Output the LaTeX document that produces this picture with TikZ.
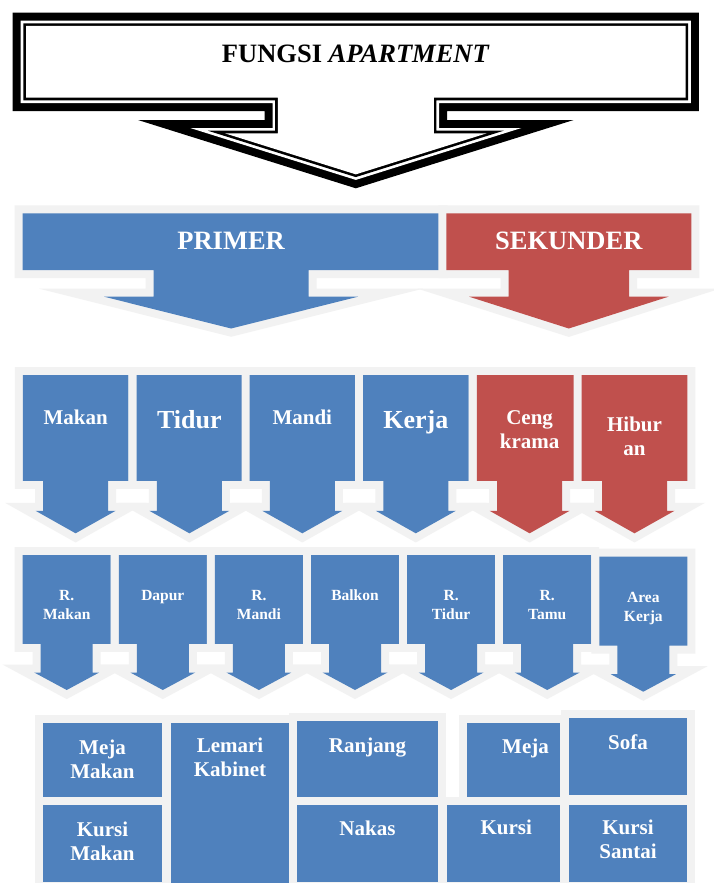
\documentclass[tikz,border=0pt]{standalone}
\usepackage{fontspec}
\setmainfont{Liberation Serif}
\definecolor{bblue}{HTML}{4F81BD}
\definecolor{rred}{HTML}{C0504D}
\definecolor{gborder}{HTML}{F2F2F2}
\tikzset{
  shapeblue/.style={fill=bblue, preaction={draw=gborder, line width=16pt, line join=miter, miter limit=30}},
  shapered/.style={fill=rred, preaction={draw=gborder, line width=16pt, line join=miter, miter limit=30}},
  lbl/.style={text=white, anchor=north, inner sep=0pt, align=center},
  fbig/.style={font=\fontsize{26.5}{30}\selectfont\bfseries},
  fmid/.style={font=\fontsize{21}{24.2}\selectfont\bfseries},
  fsmall/.style={font=\fontsize{15.5}{19.3}\selectfont\bfseries},
}
% down arrow callout: #1 style, #2 x1, #3 y1, #4 x2, #5 rect bottom, #6 stem half, #7 wing y, #8 head half, #9 tip y
\newcommand\dnarrow[9]{%
  \path[#1] (#2,#3) -- (#4,#3) -- (#4,#5) -- ({(#2+#4)/2+#6},#5) -- ({(#2+#4)/2+#6},#7)
    -- ({(#2+#4)/2+#8},#7) -- ({(#2+#4)/2},#9) -- ({(#2+#4)/2-#8},#7)
    -- ({(#2+#4)/2-#6},#7) -- ({(#2+#4)/2-#6},#5) -- (#2,#5) -- cycle;}
% title callout outline at inset #1 filled with #2
\newcommand\titleoutline[2]{%
  \fill[#2] ({12.7+#1},{12.7+#1}) -- ({698.9-#1},{12.7+#1}) -- ({698.9-#1},{111-#1})
    -- ({447.1-#1},{111-#1}) -- ({447.1-#1},{120+#1})
    -- ({355.8+(68.3-2.048*#1)/0.3136},{120+#1}) -- (355.8,{188.3-1.048*#1})
    -- ({355.8-(68.3-2.048*#1)/0.3136},{120+#1}) -- ({264.5+#1},{120+#1})
    -- ({264.5+#1},{111-#1}) -- ({12.7+#1},{111-#1}) -- cycle;}
\begin{document}
\begin{tikzpicture}[x=1pt,y=-1pt]
\useasboundingbox (0,0) rectangle (714,883);
\fill[white] (0,0) rectangle (714,883);
% title arrow
\titleoutline{0}{black}
\titleoutline{8}{white}
\titleoutline{10.7}{black}
\titleoutline{13.3}{white}
% row 2
\dnarrow{shapeblue}{22.7}{213.3}{439.5}{270}{77.6}{296.7}{127}{328.5}
\dnarrow{shapered}{446.3}{213.3}{691.3}{270}{60.3}{296.7}{99.7}{328.5}
% row 3
\dnarrow{shapeblue}{22.8}{375}{128.4}{480.8}{32.5}{510.8}{40}{533.3}
\dnarrow{shapeblue}{136.6}{375}{242.2}{480.8}{32.5}{510.8}{40}{533.3}
\dnarrow{shapeblue}{249.5}{375}{355.1}{480.8}{32.5}{510.8}{40}{533.3}
\dnarrow{shapeblue}{363}{375}{468.6}{480.8}{32.5}{510.8}{40}{533.3}
\dnarrow{shapered}{476.8}{375}{582.4}{480.8}{32.5}{510.8}{40}{533.3}
\dnarrow{shapered}{581.7}{375}{687.3}{480.8}{32.5}{510.8}{40}{533.3}
% row 4
\dnarrow{shapeblue}{22.7}{555}{110.7}{643.8}{26}{672.5}{32.5}{690}
\dnarrow{shapeblue}{118.8}{555}{206.8}{643.8}{26}{672.5}{32.5}{690}
\dnarrow{shapeblue}{214.9}{555}{302.9}{643.8}{26}{672.5}{32.5}{690}
\dnarrow{shapeblue}{311}{555}{399}{643.8}{26}{672.5}{32.5}{690}
\dnarrow{shapeblue}{407.1}{555}{495.1}{643.8}{26}{672.5}{32.5}{690}
\dnarrow{shapeblue}{503.2}{555}{591.2}{643.8}{26}{672.5}{32.5}{690}
\dnarrow{shapeblue}{599.3}{556.7}{687.3}{645.5}{26}{674.2}{32.5}{691.7}
% row 5
\path[shapeblue] (43.3,722.7) rectangle (161.7,796.7);
\path[shapeblue] (43.3,805) rectangle (161.7,881.7);
\path[shapeblue] (170.8,722.7) rectangle (289.2,895);
\path[shapeblue] (297,720.7) rectangle (437.7,796.7);
\path[shapeblue] (297,805) rectangle (437.7,881.7);
\path[shapeblue] (466.7,723.3) rectangle (560,796.7);
\path[shapeblue] (446.7,805) rectangle (560,881.7);
\path[shapeblue] (569,718.3) rectangle (687.3,795);
\path[shapeblue] (569,805) rectangle (687.3,881.7);
% labels
\node[lbl, fbig, text=black] (title) at (355.8,45) {FUNGSI \textit{APARTMENT}};
\node[lbl, fbig] (primer) at (231.1,232) {PRIMER};
\node[lbl, fbig] (sekunder) at (568.8,232) {SEKUNDER};
\node[lbl, fmid] (makan) at (75.6,410) {Makan};
\node[lbl, font=\fontsize{26}{30}\selectfont\bfseries] (tidur) at (189.4,410) {Tidur};
\node[lbl, fmid] (mandi) at (302.3,409.3) {Mandi};
\node[lbl, font=\fontsize{26}{30}\selectfont\bfseries] (kerja) at (415.8,410) {Kerja};
\node[lbl, fmid] (cengkrama) at (529.6,410) {Ceng\\krama};
\node[lbl, fmid] (hiburan) at (634.5,416.7) {Hibur\\an};
\node[lbl, fsmall] (rmakan) at (66.7,590) {R.\\Makan};
\node[lbl, fsmall] (dapur) at (162.8,590) {Dapur};
\node[lbl, fsmall] (rmandi) at (258.9,590) {R.\\Mandi};
\node[lbl, fsmall] (balkon) at (355,589.3) {Balkon};
\node[lbl, fsmall] (rtidur) at (451.1,590) {R.\\Tidur};
\node[lbl, fsmall] (rtamu) at (547.2,590) {R.\\Tamu};
\node[lbl, fsmall] (areakerja) at (643.3,591.7) {Area\\Kerja};
\node[lbl, fmid] (mejamakan) at (102.5,739.3) {Meja\\Makan};
\node[lbl, fmid] (kursimakan) at (102.5,821.7) {Kursi\\Makan};
\node[lbl, fmid] (lemari) at (230,737.3) {Lemari\\Kabinet};
\node[lbl, fmid] (ranjang) at (367.5,737.3) {Ranjang};
\node[lbl, fmid] (nakas) at (367.5,820.7) {Nakas};
\node[lbl, fmid] (meja) at (525.5,738.3) {Meja};
\node[lbl, fmid] (kursi) at (506.3,820) {Kursi};
\node[lbl, fmid] (sofa) at (628,735) {Sofa};
\node[lbl, fmid] (kursisantai) at (628,820) {Kursi\\Santai};
\end{tikzpicture}
\end{document}
